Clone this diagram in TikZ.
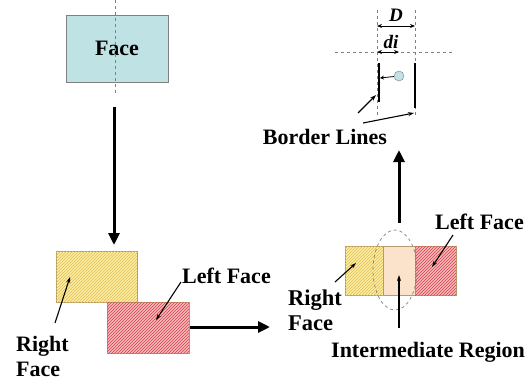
\documentclass[tikz,border=0pt]{standalone}
\usepackage{fontspec}
\setmainfont{Liberation Serif}
\usetikzlibrary{patterns,arrows.meta,shapes.geometric}
\definecolor{facecol}{HTML}{BFE2E4}
\definecolor{yelfill}{HTML}{FCEDA4}
\definecolor{yelline}{HTML}{E2BE55}
\definecolor{redfill}{HTML}{F6B8B8}
\definecolor{redline}{HTML}{D94050}
\definecolor{midfill}{HTML}{FBE2CA}
\definecolor{boxline}{HTML}{B89A70}
\begin{document}
\begin{tikzpicture}[x=1pt,y=-1pt,
  lbl/.style={font=\bfseries\fontsize{22}{25}\selectfont, inner sep=0pt, align=left},
  lblbig/.style={font=\bfseries\fontsize{22}{25}\selectfont, inner sep=0pt, align=left},
  bigarrow/.style={line width=3pt, -{Triangle[length=12pt,width=11pt]}},
  ptr/.style={line width=1.1pt, -{Stealth[length=6pt,width=4pt]}},
  dim/.style={line width=0.8pt, {Stealth[length=5pt,width=4pt]}-{Stealth[length=5pt,width=4pt]}},
  guide/.style={gray, dashed, line width=0.7pt},
  border/.style={line width=2.2pt},
  yel/.style={fill=yelfill, postaction={pattern=north east lines, pattern color=yelline}, draw=boxline, line width=0.5pt},
  red/.style={fill=redfill, postaction={pattern=north east lines, pattern color=redline}, draw=boxline, line width=0.5pt}]
\useasboundingbox (0,0) rectangle (527,381);

% --- top-left face
\node[draw=gray, fill=facecol, minimum width=102pt, minimum height=67pt, inner sep=0pt, font=\bfseries\fontsize{22}{24}\selectfont] (face) at (117,48.5) {Face};
\coordinate (vt) at (115,0);
\coordinate (vb) at (115,93);
\draw[guide] (vt) -- (vb);

\coordinate (da) at (114,107);
\coordinate (db) at (114,245);
\draw[bigarrow] (da) -- (db);

% --- bottom-left overlapping faces
\draw[yel] (56,251) rectangle (137,302);
\draw[red] (107,302) rectangle (189,353);
\coordinate (ya) at (70,277);
\coordinate (ra) at (156,320);

\coordinate (ha) at (190,327);
\coordinate (hb) at (270,327);
\draw[bigarrow] (ha) -- (hb);

\node[lbl, anchor=west] (lf1) at (182,276) {Left Face};
\node[lbl, anchor=west] (rf1) at (16,356) {Right\\Face};
\coordinate (lf1p) at (181,282);
\coordinate (rf1p) at (55,323);
\draw[ptr] (lf1p) -- (ra);
\draw[ptr] (rf1p) -- (ya);

% --- bottom-right merged faces
\draw[yel] (345,246) rectangle (383,295);
\draw[fill=midfill, draw=boxline, line width=0.5pt] (383,246) rectangle (415,295);
\draw[red] (415,246) rectangle (456,295);
\node[draw=gray, dashed, line width=0.7pt, ellipse, minimum width=44pt, minimum height=80pt, inner sep=0pt] (ell) at (395,270) {};

\coordinate (ua) at (399,223);
\coordinate (ub) at (399,150);
\draw[bigarrow] (ua) -- (ub);

\node[lblbig, anchor=west] (lf2) at (435,222) {Left Face};
\node[lbl, font=\bfseries\fontsize{22.5}{25}\selectfont, anchor=west] (rf2) at (288,310.5) {Right\\Face};
\node[lblbig, anchor=west] (ir) at (331,352) {Intermediate Region};
\coordinate (lf2p) at (453,235);
\coordinate (lf2t) at (432,267);
\coordinate (rf2p) at (335,282);
\coordinate (rf2t) at (356,263);
\coordinate (irp) at (399,328);
\coordinate (irt) at (399,275);
\draw[ptr] (lf2p) -- (lf2t);
\draw[ptr] (rf2p) -- (rf2t);
\draw[ptr] (irp) -- (irt);

% --- top-right border lines
\coordinate (g1t) at (377,10);
\coordinate (g1b) at (377,116);
\coordinate (g2t) at (415,10);
\coordinate (g2b) at (415,116);
\coordinate (hl) at (335,52);
\coordinate (hr) at (452,52);
\draw[guide] (g1t) -- (g1b);
\draw[guide] (g2t) -- (g2b);
\draw[guide] (hl) -- (hr);

\coordinate (Da) at (377,26);
\coordinate (Db) at (415,26);
\draw[dim] (Da) -- (Db);
\node[font=\bfseries\itshape\fontsize{19}{20}\selectfont, inner sep=0pt] (Dl) at (396,15) {D};
\coordinate (da1) at (377,52);
\coordinate (da2) at (399,52);
\draw[dim] (da1) -- (da2);
\node[font=\bfseries\itshape\fontsize{19}{20}\selectfont, inner sep=0pt] (dil) at (391,42) {di};

\coordinate (b1t) at (379,63);
\coordinate (b1b) at (379,102);
\coordinate (b2t) at (415,63);
\coordinate (b2b) at (415,108);
\draw[border] (b1t) -- (b1b);
\draw[border] (b2t) -- (b2b);
\node[circle, draw=gray, fill=facecol, minimum size=10pt, inner sep=0pt] (pt) at (399,76) {};
\coordinate (b1m) at (380,78);
\draw[line width=0.8pt, -{Stealth[length=4pt,width=4pt]}] (pt) -- (b1m);

\node[lbl] (bl) at (325,137) {Border Lines};
\coordinate (bl1) at (358,113);
\coordinate (bl1t) at (376,95);
\coordinate (bl2) at (363,123);
\coordinate (bl2t) at (414,113);
\draw[ptr] (bl1) -- (bl1t);
\draw[ptr] (bl2) -- (bl2t);
\end{tikzpicture}
\end{document}
